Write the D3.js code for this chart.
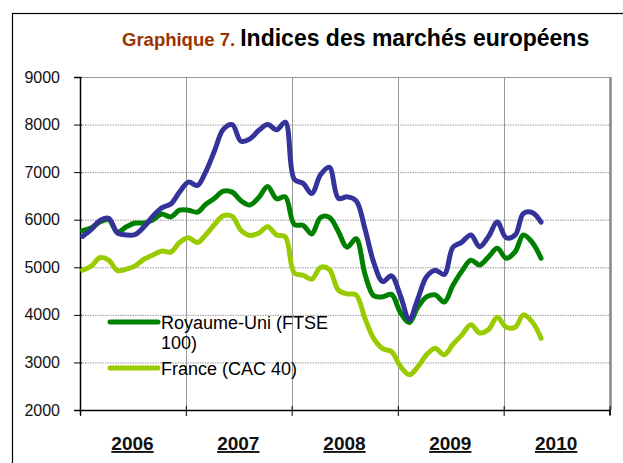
<!DOCTYPE html>
<html>
<head>
<meta charset="utf-8">
<script src="https://cdn.jsdelivr.net/npm/d3@7"></script>
<style>
  body { margin: 0; background: #fff; }
  svg { display: block; font-family: 'Liberation Sans', Arial, sans-serif; }
</style>
</head>
<body>
<div id="chart"></div>
<script>
// monthly index levels, Jan 2006 - May 2010
const months = d3.range(53).map(i => new Date(2006, i, 10))

const dax = [5650, 5800, 5980, 6030, 5720, 5680, 5690, 5850, 6080, 6250, 6330, 6580,
  6790, 6720, 7000, 7450, 7900, 8000, 7650, 7700, 7880, 8000, 7890, 8050,
  6850, 6760, 6550, 6950, 7100, 6450, 6480, 6400, 5800, 5100, 4700, 4820,
  4400, 3900, 4320, 4800, 4940, 4850, 5420, 5530, 5680, 5430, 5650, 5950,
  5620, 5680, 6130, 6150, 5950]

const ftse = [5770, 5830, 5950, 6000, 5740, 5850, 5930, 5930, 6000, 6120, 6060, 6200,
  6200, 6160, 6320, 6450, 6600, 6580, 6400, 6310, 6470, 6700, 6440, 6480,
  5900, 5880, 5700, 6050, 6050, 5750, 5420, 5600, 4850, 4400, 4380, 4430,
  4050, 3840, 4150, 4380, 4420, 4270, 4620, 4920, 5150, 5050, 5220, 5400,
  5190, 5330, 5680, 5520, 5190]

const cac = [4940, 5030, 5200, 5150, 4930, 4960, 5030, 5170, 5260, 5340, 5320, 5520,
  5620, 5520, 5680, 5900, 6080, 6070, 5780, 5670, 5720, 5850, 5680, 5640,
  4880, 4830, 4750, 5000, 4950, 4520, 4440, 4420, 3920, 3500, 3290, 3230,
  2920, 2740, 2900, 3160, 3300, 3160, 3380, 3580, 3790, 3620, 3690, 3950,
  3740, 3740, 4000, 3850, 3510]

const years = [2006, 2007, 2008, 2009, 2010]
const yTicks = [2000, 3000, 4000, 5000, 6000, 7000, 8000, 9000]

const series = [
  { name: 'Royaume-Uni (FTSE 100)', values: ftse, color: '#008000' },
  { name: 'France (CAC 40)', values: cac, color: '#99cc00' },
  { name: 'Allemagne (DAX)', values: dax, color: '#333399' }
]

const width = 623
const height = 463
const margin = { top: 77, left: 80, right: 13.5, bottom: 53 }

const svg = d3.select('#chart')
  .append('svg')
  .attr('width', width)
  .attr('height', height)

// outer frame (only left and top edges are visible)
svg.append('rect')
  .attr('x', 12.5).attr('y', 13.5)
  .attr('width', 700).attr('height', 600)
  .attr('fill', 'none')
  .attr('stroke', '#000')
  .attr('stroke-width', 1.2)

// title
const title = svg.append('text')
  .attr('x', 122)
  .attr('y', 46)
  .style('font-weight', 'bold')
title.append('tspan')
  .attr('fill', '#993300')
  .style('font-size', '18.5px')
  .text('Graphique 7. ')
title.append('tspan')
  .attr('fill', '#000')
  .style('font-size', '23px')
  .text('Indices des marchés européens')

const x = d3.scaleTime()
  .domain([new Date(2006, 0, 1), new Date(2011, 0, 1)])
  .range([margin.left, width - margin.right])

const y = d3.scaleLinear()
  .domain([2000, 9000])
  .range([height - margin.bottom, margin.top])

// horizontal dotted grid
svg.selectAll('.hgrid')
  .data(yTicks.filter(d => d > 2000))
  .enter()
  .append('line')
  .attr('class', 'hgrid')
  .attr('x1', x.range()[0])
  .attr('x2', x.range()[1])
  .attr('y1', d => y(d) + 0.5)
  .attr('y2', d => y(d) + 0.5)
  .attr('stroke', '#999')
  .attr('stroke-width', 1)
  .attr('stroke-dasharray', d => d === 9000 ? null : '1.5,1')

// vertical year lines
const bounds = years.map(d => new Date(d + 1, 0, 1))
svg.selectAll('.vgrid')
  .data(bounds)
  .enter()
  .append('line')
  .attr('class', 'vgrid')
  .attr('x1', d => Math.round(x(d)) + 0.5)
  .attr('x2', d => Math.round(x(d)) + 0.5)
  .attr('y1', y(9000))
  .attr('y2', y(2000))
  .attr('stroke', d => d.getFullYear() === 2011 ? '#888' : '#999')
  .attr('stroke-width', d => d.getFullYear() === 2011 ? 2.5 : 1)

// y axis
const yAxis = svg.append('g')
  .attr('transform', `translate(${margin.left},0)`)
  .call(d3.axisLeft(y).tickValues(yTicks).tickSize(6).tickPadding(14).tickFormat(d3.format('d')))
yAxis.select('.domain').attr('stroke', '#000').attr('stroke-width', 1.5)
yAxis.selectAll('.tick line').attr('stroke', '#000').attr('x2', -6).attr('x1', 2)
yAxis.selectAll('.tick text')
  .style('font-size', '16px')
  .style('font-family', "'Liberation Sans', Arial, sans-serif")
  .attr('fill', '#111')

// x axis
const xAxis = svg.append('g')
  .attr('transform', `translate(0,${y(2000)})`)
  .call(d3.axisBottom(x).tickValues([new Date(2006, 0, 1)].concat(bounds)).tickSize(5).tickFormat(''))
xAxis.select('.domain').attr('stroke', '#000').attr('stroke-width', 1.5)
xAxis.selectAll('.tick line').attr('stroke', '#000').attr('y1', -4).attr('y2', 6)

// year labels
svg.selectAll('.year')
  .data(years)
  .enter()
  .append('text')
  .attr('class', 'year')
  .attr('x', d => x(new Date(d, 6, 1)))
  .attr('y', 450)
  .attr('text-anchor', 'middle')
  .style('font-size', '19px')
  .style('font-weight', 'bold')
  .style('text-decoration', 'underline')
  .attr('fill', '#111')
  .text(d => d)

// lines
const line = d3.line()
  .x((d, i) => x(months[i]))
  .y(d => y(d))
  .curve(d3.curveCatmullRom.alpha(0.5))

svg.selectAll('.series')
  .data(series)
  .enter()
  .append('path')
  .attr('class', 'series')
  .attr('d', d => line(d.values))
  .attr('fill', 'none')
  .attr('stroke', d => d.color)
  .attr('stroke-width', 5)
  .attr('stroke-linecap', 'round')
  .attr('stroke-linejoin', 'round')

// legend (only two entries visible)
const legend = svg.append('g')
  .style('font-size', '18px')
  .attr('fill', '#000')

legend.append('line')
  .attr('x1', 110).attr('x2', 158)
  .attr('y1', 322).attr('y2', 322)
  .attr('stroke', series[0].color)
  .attr('stroke-width', 5)
  .attr('stroke-linecap', 'round')
const t1 = legend.append('text').attr('x', 161).attr('y', 329)
t1.append('tspan').attr('x', 161).text('Royaume-Uni (FTSE')
t1.append('tspan').attr('x', 161).attr('dy', 20).text('100)')

legend.append('line')
  .attr('x1', 110).attr('x2', 158)
  .attr('y1', 368).attr('y2', 368)
  .attr('stroke', series[1].color)
  .attr('stroke-width', 5)
  .attr('stroke-linecap', 'round')
legend.append('text').attr('x', 161).attr('y', 375).text('France (CAC 40)')
</script>
</body>
</html>
